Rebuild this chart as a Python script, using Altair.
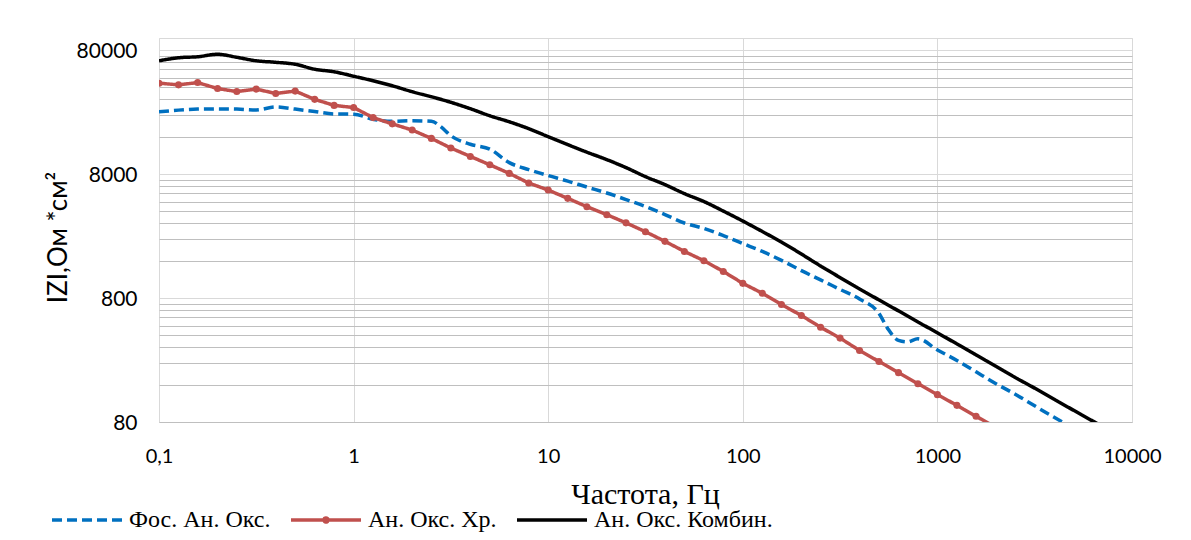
import altair as alt
import pandas as pd

SERIES = ["Фос. Ан. Окс.", "Ан. Окс. Хр.", "Ан. Окс. Комбин."]
COLORS = ["#0070C0", "#C0504D", "#000000"]

# Фос. Ан. Окс. (blue, dashed)
blue_freq = [0.1, 0.126, 0.158, 0.2, 0.251, 0.316, 0.398, 0.501, 0.631, 0.794,
             1, 1.26, 1.58, 2, 2.51, 2.8, 3.16, 3.98, 5.01, 6.31, 7.94,
             10, 12.6, 15.8, 20, 25.1, 31.6, 39.8, 50.1, 63.1, 79.4,
             100, 126, 158, 200, 251, 316, 398, 501, 555, 631, 700, 794,
             1000, 1260, 1580, 2000, 2510, 3160, 3980, 5010]
blue_z = [25400, 26200, 26700, 26800, 26700, 26300, 27800, 26700, 25500, 24400,
          24300, 22100, 21300, 21500, 21300, 19300, 16300, 13900, 12700, 9880, 8680,
          7770, 7010, 6280, 5620, 4980, 4370, 3770, 3220, 2910, 2550,
          2200, 1900, 1610, 1330, 1120, 938, 786, 601, 455, 364, 354, 375,
          305, 251, 203, 163, 134, 108, 87.4, 71.2]

# Ан. Окс. Хр. (red, markers)
red_freq = [0.1, 0.126, 0.158, 0.2, 0.251, 0.316, 0.398, 0.501, 0.631, 0.794,
            1, 1.26, 1.58, 2, 2.51, 3.16, 3.98, 5.01, 6.31, 7.94,
            10, 12.6, 15.8, 20, 25.1, 31.6, 39.8, 50.1, 63.1, 79.4,
            100, 126, 158, 200, 251, 316, 398, 501, 631, 794,
            1000, 1260, 1580, 2000]
red_z = [43200, 41900, 43700, 39100, 37000, 38700, 35700, 37300, 32000, 28600,
         27500, 22800, 20300, 18100, 15500, 12960, 11090, 9500, 8090, 6770,
         5940, 5090, 4360, 3760, 3230, 2740, 2290, 1900, 1600, 1310,
         1050, 874, 709, 578, 465, 380, 302, 246, 200, 163,
         133, 109, 88.9, 72.5]

# Ан. Окс. Комбин. (black)
black_freq = [0.1, 0.126, 0.158, 0.2, 0.251, 0.316, 0.398, 0.501, 0.631, 0.794,
              1, 1.26, 1.58, 2, 2.51, 3.16, 3.98, 5.01, 6.31, 7.94,
              10, 12.6, 15.8, 20, 25.1, 31.6, 39.8, 50.1, 63.1, 79.4,
              100, 126, 158, 200, 251, 316, 398, 501, 631, 794,
              1000, 1260, 1580, 2000, 2510, 3160, 3980, 5010, 6310, 7940]
black_z = [65500, 69300, 70600, 73900, 69900, 65500, 63700, 61400, 56000, 53400,
           49200, 45200, 41200, 36900, 33600, 30300, 26900, 23600, 21100, 18570,
           16000, 13800, 12000, 10450, 9010, 7620, 6570, 5560, 4800, 4020,
           3340, 2750, 2260, 1810, 1450, 1170, 946, 772, 630, 513,
           419, 341, 278, 225, 183, 150, 122, 99.4, 81.1, 66.1]

X_TICKS = [0.1, 1, 10, 100, 1000, 10000]
Y_GRID = [80, 160, 240, 320, 400, 480, 560, 640, 720,
          800, 1600, 2400, 3200, 4000, 4800, 5600, 6400, 7200,
          8000, 16000, 24000, 32000, 40000, 48000, 56000, 64000, 72000,
          80000]


def frame(freq, z, idx):
    return pd.DataFrame({"f": freq, "z": z, "series": SERIES[idx]})


df_blue = frame(blue_freq, blue_z, 0)
df_red = frame(red_freq, red_z, 1)
df_black = frame(black_freq, black_z, 2)
df_empty = pd.DataFrame({"f": pd.Series([], dtype=float),
                         "z": pd.Series([], dtype=float),
                         "series": pd.Series([], dtype=str)})

# legend glyphs: a line, and a line with a small dot in its middle
LINE = "M-1,0L1,0"
LINE_DOT = "M-1,0L1,0M-0.06,0A0.06,0.06,0,1,1,0.06,0A0.06,0.06,0,1,1,-0.06,0Z"
SYM = 4900
LEG_X = -109
LEG_Y = 445
LEG_FONT = 24
LEG_PAD = 13

major_test = "indexof([80,800,8000,80000], datum.value) >= 0"

x_enc = alt.X(
    "f:Q",
    title="Частота, Гц",
    scale=alt.Scale(type="log", domain=[0.1, 10000], nice=False),
    axis=alt.Axis(
        values=X_TICKS,
        labelExpr="datum.value < 0.5 ? '0,1' : format(datum.value, 'd')",
        grid=True, gridColor="#d9d9d9", gridWidth=1,
        ticks=False, tickSize=0,
        domain=True, domainColor="#bfbfbf", domainWidth=1.2,
        labelFlush=False, labelPadding=24, labelFontSize=20,
        labelColor="#000000", labelFont="Lato",
        titleFont="Liberation Serif", titleFontSize=30, titleFontWeight="normal",
        titleColor="#000000", titleX=486, titleY=81, titleBaseline="alphabetic",
        titleAlign="center",
    ),
)

y_enc = alt.Y(
    "z:Q",
    title="IZI,Ом *см²",
    scale=alt.Scale(type="log", domain=[80, 100000], nice=False),
    axis=alt.Axis(
        values=Y_GRID,
        labelExpr=major_test + " ? format(datum.value, 'd') : ''",
        grid=True,
        gridColor={"condition": {"test": major_test, "value": "#d9d9d9"}, "value": "#bfbfbf"},
        gridWidth=1,
        ticks=False, tickSize=0, domain=False,
        labelFlush=False, labelOverlap=False, labelPadding=22, labelFontSize=21,
        labelColor="#000000", labelFont="Lato", labelOffset=1,
        titleFont="Lato", titleFontSize=26, titleFontWeight="normal",
        titleColor="#000000", titleX=-93, titleY=199, titleAngle=-90,
        titleAlign="center", titleBaseline="alphabetic",
    ),
)

leg = alt.Legend(
    title=None, orient="none", legendX=LEG_X, legendY=LEG_Y, direction="horizontal",
    symbolType="stroke", symbolSize=SYM, symbolStrokeWidth=3.5,
    labelFont="Liberation Serif", labelFontSize=LEG_FONT, labelColor="#000000",
    labelOffset=5, columnPadding=LEG_PAD, padding=0, labelLimit=400,
)

color_enc = alt.Color("series:N", scale=alt.Scale(domain=SERIES, range=COLORS), legend=leg)
dash_enc = alt.StrokeDash("series:N",
                          scale=alt.Scale(domain=SERIES, range=[[10, 5], [1, 0], [1, 0]]),
                          legend=leg)
shape_enc = alt.Shape("series:N",
                      scale=alt.Scale(domain=SERIES, range=[LINE, LINE_DOT, LINE]),
                      legend=leg)

blue_line = alt.Chart(df_blue).mark_line(strokeWidth=3.5, interpolate="monotone", clip=True).encode(
    x=x_enc, y=y_enc, color=color_enc, strokeDash=dash_enc, order="f:Q")
red_line = alt.Chart(df_red).mark_line(strokeWidth=3.5, clip=True).encode(
    x=x_enc, y=y_enc, color=color_enc, strokeDash=dash_enc, order="f:Q")
black_line = alt.Chart(df_black).mark_line(strokeWidth=3.5, interpolate="monotone", clip=True).encode(
    x=x_enc, y=y_enc, color=color_enc, strokeDash=dash_enc, order="f:Q")

red_pts = alt.Chart(df_red).mark_point(filled=True, color="#C0504D", size=50, strokeWidth=0,
                                         opacity=1, clip=True).encode(x=x_enc, y=y_enc)

# carries the legend glyph shapes only (no data drawn)
legend_shapes = alt.Chart(df_empty).mark_point(opacity=1, strokeWidth=3.5, filled=False).encode(
    x=x_enc, y=y_enc, color=color_enc, strokeDash=dash_enc, shape=shape_enc)

chart = alt.layer(blue_line, red_line, black_line, red_pts, legend_shapes).properties(
    width=973, height=384,
    autosize=alt.AutoSizeParams(type="none"),
    padding={"left": 151, "top": 30, "right": 51, "bottom": 110},
    background="#ffffff",
).configure(font="Lato").configure_view(stroke="#d9d9d9", strokeWidth=1)

chart.save("out.html", embed_options={"renderer": "svg", "actions": False})
